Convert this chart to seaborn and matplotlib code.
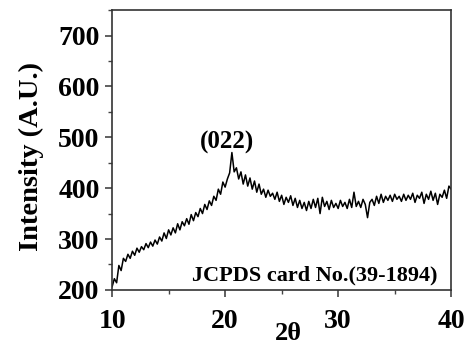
import matplotlib
matplotlib.use("Agg")
import matplotlib.pyplot as plt
from matplotlib.ticker import MultipleLocator
import pandas as pd
import seaborn as sns

# XRD scan: diffraction angle (degrees) and measured intensity
two_theta = [
    10.0, 10.2, 10.4, 10.6, 10.8, 11.0, 11.2, 11.4, 11.6, 11.8,
    12.0, 12.2, 12.4, 12.6, 12.8, 13.0, 13.2, 13.4, 13.6, 13.8,
    14.0, 14.2, 14.4, 14.6, 14.8, 15.0, 15.2, 15.4, 15.6, 15.8,
    16.0, 16.2, 16.4, 16.6, 16.8, 17.0, 17.2, 17.4, 17.6, 17.8,
    18.0, 18.2, 18.4, 18.6, 18.8, 19.0, 19.2, 19.4, 19.6, 19.8,
    20.0, 20.2, 20.4, 20.6, 20.8, 21.0, 21.2, 21.4, 21.6, 21.8,
    22.0, 22.2, 22.4, 22.6, 22.8, 23.0, 23.2, 23.4, 23.6, 23.8,
    24.0, 24.2, 24.4, 24.6, 24.8, 25.0, 25.2, 25.4, 25.6, 25.8,
    26.0, 26.2, 26.4, 26.6, 26.8, 27.0, 27.2, 27.4, 27.6, 27.8,
    28.0, 28.2, 28.4, 28.6, 28.8, 29.0, 29.2, 29.4, 29.6, 29.8,
    30.0, 30.2, 30.4, 30.6, 30.8, 31.0, 31.2, 31.4, 31.6, 31.8,
    32.0, 32.2, 32.4, 32.6, 32.8, 33.0, 33.2, 33.4, 33.6, 33.8,
    34.0, 34.2, 34.4, 34.6, 34.8, 35.0, 35.2, 35.4, 35.6, 35.8,
    36.0, 36.2, 36.4, 36.6, 36.8, 37.0, 37.2, 37.4, 37.6, 37.8,
    38.0, 38.2, 38.4, 38.6, 38.8, 39.0, 39.2, 39.4, 39.6, 39.8,
    40.0,
]
intensity = [
    206, 222, 214, 248, 238, 262, 256, 270, 262, 276,
    268, 282, 274, 285, 279, 291, 283, 294, 286, 298,
    290, 304, 296, 312, 301, 318, 308, 322, 312, 330,
    318, 334, 326, 340, 329, 348, 336, 352, 344, 360,
    350, 368, 358, 375, 366, 384, 376, 398, 388, 412,
    402, 418, 430, 470, 432, 440, 418, 432, 408, 426,
    404, 420, 398, 414, 392, 408, 388, 398, 382, 396,
    384, 390, 378, 392, 374, 386, 368, 382, 372, 385,
    366, 380, 362, 376, 360, 372, 356, 374, 360, 378,
    362, 380, 350, 382, 364, 374, 358, 376, 362, 370,
    360, 376, 364, 372, 360, 378, 362, 392, 364, 374,
    362, 378, 368, 342, 372, 378, 366, 384, 370, 388,
    372, 384, 376, 386, 374, 388, 378, 384, 374, 388,
    376, 386, 378, 390, 372, 386, 380, 392, 370, 388,
    378, 394, 376, 390, 368, 388, 382, 396, 380, 404,
    398,
]
x_ticks = [10, 20, 30, 40]
y_ticks = [200, 300, 400, 500, 600, 700]

df = pd.DataFrame({"two_theta": two_theta, "intensity": intensity})

sns.set_theme(style="ticks")
plt.rcParams["font.family"] = ["Liberation Serif", "DejaVu Serif"]
plt.rcParams["font.weight"] = "bold"
plt.rcParams["text.color"] = "black"
plt.rcParams["axes.labelcolor"] = "black"

fig = plt.figure(figsize=(4.69, 3.48), dpi=100)
ax = fig.add_axes([0.239, 0.167, 0.723, 0.804])

sns.lineplot(data=df, x="two_theta", y="intensity", ax=ax,
             color="black", linewidth=1.1)

ax.set_xlim(10, 40)
ax.set_ylim(200, 750)
ax.set_xticks(x_ticks)
ax.set_yticks(y_ticks)
ax.xaxis.set_minor_locator(MultipleLocator(5))
ax.yaxis.set_minor_locator(MultipleLocator(50))
ax.tick_params(axis="x", which="major", pad=9)
ax.tick_params(axis="y", which="major", pad=4)
ax.tick_params(axis="both", which="major", direction="out", length=5,
               width=1.2, labelsize=20, color="#444444", labelcolor="black")
ax.tick_params(axis="both", which="minor", direction="out", length=3,
               width=1.0, color="#444444")
for lbl in ax.get_xticklabels() + ax.get_yticklabels():
    lbl.set_fontweight("bold")
for side in ["left", "bottom", "top", "right"]:
    ax.spines[side].set_linewidth(1.2)
    ax.spines[side].set_color("#333333")

ax.set_xlabel("")
ax.set_ylabel("")
fig.text(0.066, 0.549, "Intensity (A.U.)", rotation=90, ha="center",
         va="center", fontsize=20.5, fontweight="bold", color="black")
fig.text(0.614, 0.043, "2θ", ha="center", va="center", fontsize=19,
         fontweight="bold", color="black")

ax.text(20.2, 490, "(022)", ha="center", va="center", fontsize=18,
        fontweight="bold", color="black")
ax.text(38.75, 229, "JCPDS card No.(39-1894)", ha="right", va="center",
        fontsize=16, fontweight="bold", color="black")

fig.savefig("out.png", dpi=100)
